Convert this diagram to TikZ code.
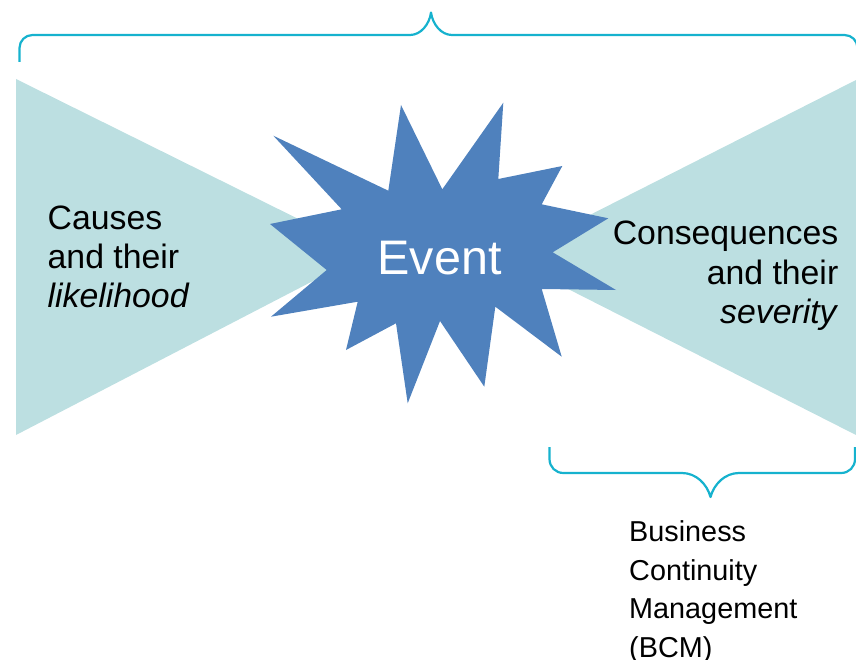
\documentclass[tikz,border=0pt]{standalone}
\usepackage{fontspec}
\setmainfont{Liberation Sans}
\definecolor{starblue}{RGB}{79,129,189}
\definecolor{wingteal}{RGB}{188,223,225}
\definecolor{bracecyan}{RGB}{22,178,206}
\begin{document}
\begin{tikzpicture}[x=1pt,y=-1pt,
  wing/.style={fill=wingteal,draw=none},
  burst/.style={fill=starblue,draw=none},
  bracket/.style={draw=bracecyan,line width=2.2pt,line join=round},
  sidetext/.style={inner sep=0pt,font={\fontsize{33.8}{39}\selectfont}},
  bigtext/.style={inner sep=0pt,text=white,font={\fontsize{48.5}{52}\selectfont}},
  notetext/.style={inner sep=0pt,font={\fontsize{28.8}{38.5}\selectfont}}]
\useasboundingbox (0,0) rectangle (856,660);

% the two wings of the bow tie
\fill[wing] (16,79) -- (16,435) -- (367,253) -- cycle;
\fill[wing] (856,80) -- (856,435) -- (506,257.5) -- cycle;

% the burst in the middle
\fill[burst] (401,105) -- (442.3,189.3) -- (503.3,102.7) -- (498.3,179)
  -- (562.3,166) -- (541.7,204.3) -- (608.3,218.3) -- (552.7,252.3)
  -- (616,290) -- (541.7,289) -- (561.7,356.7) -- (495.3,306.7)
  -- (484.3,386.7) -- (440,321) -- (407.7,403.3) -- (396,323.3)
  -- (346,350) -- (357.7,301.7) -- (271,316.7) -- (326.7,270)
  -- (270,224) -- (341.7,209.3) -- (273.3,135.7) -- (388.3,190.7) -- cycle;

% labels (a multi-line node sits on the baseline of its last line)
\node[bigtext,anchor=base] (event) at (439.5,274.3) {Event};
\node[sidetext,anchor=base west,align=left] (causes) at (47.5,307)
  {Causes\\and their\\\textit{likelihood}};
\node[sidetext,anchor=base east,align=right] (consequences) at (838.5,323)
  {Consequences\\and their\\\textit{severity}};
\node[notetext,anchor=base west,align=left] (bcm) at (629,657)
  {Business\\Continuity\\Management\\(BCM)};

% brace over the whole bow tie
\draw[bracket] (19.5,62) -- (19.5,48)
  .. controls (19.5,40.8) and (25.3,35) .. (32.5,35)
  -- (410,35) .. controls (421,35) and (429.5,24) .. (431,12.5)
  .. controls (432.5,24) and (441,35) .. (452,35)
  -- (844.5,35) .. controls (851.7,35) and (857.5,40.8) .. (857.5,48)
  -- (857.5,62);

% brace under the consequences
\draw[bracket] (549.5,447) -- (549.5,459)
  .. controls (549.5,467) and (555.5,473) .. (563.5,473)
  -- (682,473) .. controls (696,473) and (707,484) .. (710.5,497)
  .. controls (714,484) and (725,473) .. (739,473)
  -- (841,473) .. controls (849,473) and (855,467) .. (855,459)
  -- (855,447);
\end{tikzpicture}
\end{document}
